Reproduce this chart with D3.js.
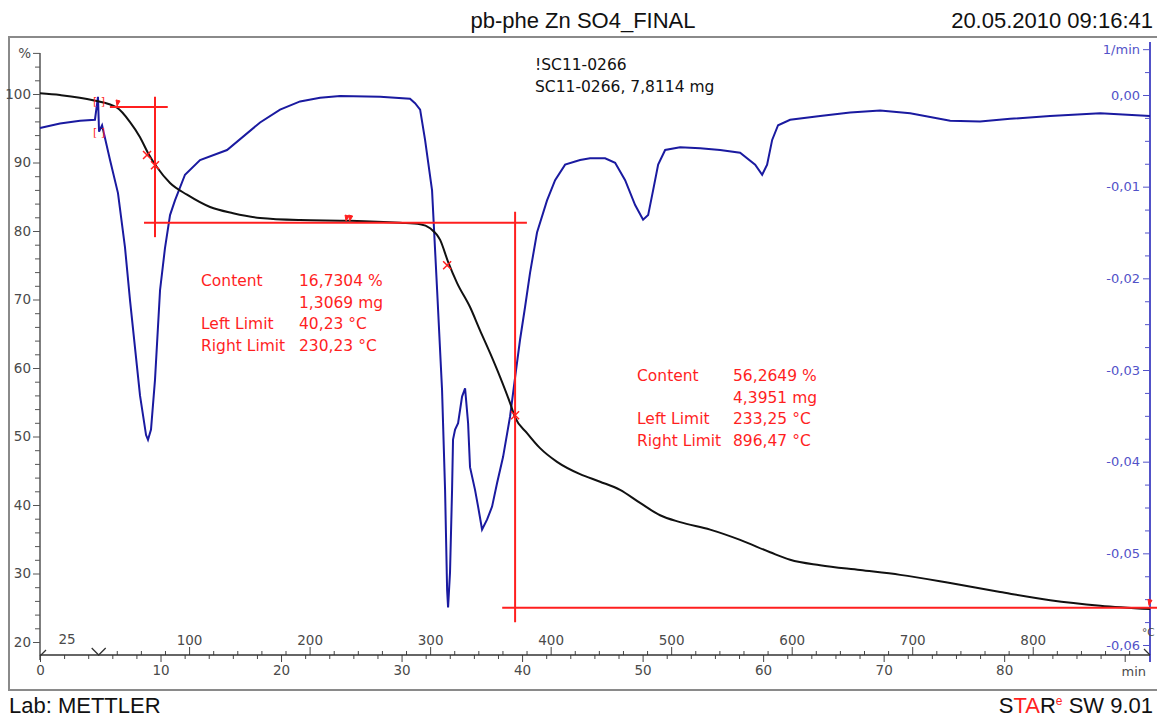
<!DOCTYPE html>
<html>
<head>
<meta charset="utf-8">
<script src="https://cdn.jsdelivr.net/npm/d3@7"></script>
<style>
body { margin: 0; background: #fff; }
svg { display: block; }
</style>
</head>
<body>
<svg></svg>
<script>
// TG curve (%), time in min
var tgTime = [0, 1.66, 4.40, 6.39, 7.47, 8.30, 8.96, 9.71, 10.79, 12.20, 14.11, 16.02, 18.26, 21.58, 25.73, 29.88,
  31.54, 32.37, 33.20, 33.86, 34.61, 35.68, 36.51, 37.34, 38.17, 39.00, 39.42, 40.41, 41.49, 42.90, 44.81, 46.47,
  48.13, 49.79, 51.45, 53.11, 55.60, 58.09, 60.58, 62.24, 64.73, 68.05, 71.37, 75.52, 79.67, 83.82, 87.97, 92.12];
var tgValue = [100.1, 99.85, 99.1, 98.0, 95.9, 93.7, 91.4, 89.3, 87.0, 85.3, 83.5, 82.6, 81.9, 81.6, 81.5, 81.2,
  81.0, 80.4, 78.7, 75.5, 72.4, 68.9, 65.5, 62.2, 58.7, 54.9, 52.8, 50.5, 48.3, 46.3, 44.5, 43.4,
  42.2, 40.3, 38.5, 37.5, 36.4, 34.9, 33.1, 32.0, 31.2, 30.5, 29.8, 28.6, 27.3, 26.1, 25.3, 24.8];

// DTG curve (1/min)
var dtgTime = [0, 1.66, 3.32, 4.56, 4.81, 4.90, 5.15, 5.81, 6.47, 7.05, 7.47, 8.30, 8.80, 8.96, 9.21, 9.54, 9.96,
  10.37, 10.79, 11.20, 12.03, 13.28, 15.52, 18.26, 19.92, 21.58, 23.24, 24.90, 28.22, 30.70, 31.12, 31.54, 31.95,
  32.53, 32.95, 33.36, 33.61, 33.78, 33.86, 34.02, 34.19, 34.27, 34.44, 34.69, 35.02, 35.27, 35.52, 35.68, 36.10,
  36.35, 36.68, 37.10, 37.51, 37.93, 38.42, 39.00, 39.42, 39.83, 40.25, 40.66, 41.24, 42.07, 42.74, 43.57, 44.81,
  45.64, 46.89, 47.72, 48.55, 49.38, 50.04, 50.46, 50.87, 51.29, 51.87, 53.11, 54.77, 56.43, 58.09, 59.34, 59.92,
  60.33, 60.75, 61.24, 62.24, 64.73, 67.22, 69.71, 72.20, 75.52, 78.00, 80.50, 83.80, 87.97, 92.10];
var dtgValue = [-0.0036, -0.0031, -0.0028, -0.0027, -0.0002, -0.0040, -0.0033, -0.0071, -0.0107, -0.0166, -0.0224,
  -0.0328, -0.0371, -0.0376, -0.0365, -0.0311, -0.0213, -0.0167, -0.0131, -0.0115, -0.0087, -0.0071, -0.0060,
  -0.0030, -0.0016, -0.0007, -0.0003, -0.0001, -0.0002, -0.0004, -0.0009, -0.0016, -0.0049, -0.0104, -0.0213,
  -0.0322, -0.0431, -0.0540, -0.0559, -0.0521, -0.0431, -0.0376, -0.0365, -0.0358, -0.0329, -0.0320, -0.0358,
  -0.0406, -0.0431, -0.0449, -0.0474, -0.0463, -0.0449, -0.0423, -0.0395, -0.0351, -0.0308, -0.0267, -0.0231,
  -0.0194, -0.0150, -0.0115, -0.0093, -0.0076, -0.0071, -0.0069, -0.0069, -0.0074, -0.0093, -0.0120, -0.0136,
  -0.0131, -0.0104, -0.0076, -0.0060, -0.0057, -0.0058, -0.0060, -0.0063, -0.0076, -0.0087, -0.0076, -0.0049,
  -0.0033, -0.0027, -0.0023, -0.0019, -0.0017, -0.0020, -0.0028, -0.0029, -0.0026, -0.0023, -0.0020, -0.0023];

// axis ticks
var tgTicks = [20, 30, 40, 50, 60, 70, 80, 90, 100];
var dtgTicks = [0, -0.01, -0.02, -0.03, -0.04, -0.05, -0.06];
var timeTicks = [0, 10, 20, 30, 40, 50, 60, 70, 80];
var tempTicks = [100, 200, 300, 400, 500, 600, 700, 800];

// step evaluations
var stepLeft = [40.23, 233.25];      // °C
var stepRight = [230.23, 896.47];    // °C
var stepLevels = [[98.1, 81.2], [81.2, 25.0]];   // % before / after
var stepInflection = [[8.88, 91.1], [9.54, 89.6], [33.78, 75.0], [39.42, 53.1]];
var step1Names = ["Content", "", "Left Limit", "Right Limit"];
var step1Values = ["16,7304 %", "1,3069 mg", "40,23 °C", "230,23 °C"];
var step2Names = ["Content", "", "Left Limit", "Right Limit"];
var step2Values = ["56,2649 %", "4,3951 mg", "233,25 °C", "896,47 °C"];

var W = 1157, H = 717;
var svg = d3.select("svg").attr("width", W).attr("height", H);

var x = d3.scaleLinear().domain([0, 92.1]).range([40, 1150]);
var yTg = d3.scaleLinear().domain([20, 100]).range([642, 94]);
var yDtg = d3.scaleLinear().domain([-0.06, 0]).range([645, 95]);
// 25 °C isotherm for ~4.87 min, then 10 K/min
var tStart = 4.87;
var xTemp = d3.scaleLinear().domain([25, 896.5]).range([x(tStart), x(tStart + (896.5 - 25) / 10)]);
var tempToTime = T => tStart + (T - 25) / 10;

var axisFont = "DejaVu Sans, Verdana, sans-serif";
var red = "#ff1f1f";

// frame
svg.append("path")
  .attr("d", "M" + W + ",37 H9 V690 H" + W)
  .attr("fill", "none").attr("stroke", "#8a8a8a").attr("stroke-width", 2);

// header / footer
svg.append("text").attr("x", 583).attr("y", 28).attr("text-anchor", "middle")
  .style("font-family", "Liberation Sans, Arial").style("font-size", "22px").attr("fill", "#111")
  .text("pb-phe Zn SO4_FINAL");
svg.append("text").attr("x", 1153).attr("y", 28).attr("text-anchor", "end")
  .style("font-family", "Liberation Sans, Arial").style("font-size", "22px").attr("fill", "#111")
  .text("20.05.2010 09:16:41");
svg.append("text").attr("x", 9).attr("y", 713)
  .style("font-family", "Liberation Sans, Arial").style("font-size", "22px").attr("fill", "#111")
  .text("Lab: METTLER");
var star = svg.append("text").attr("x", 1153).attr("y", 713).attr("text-anchor", "end")
  .style("font-family", "Liberation Sans, Arial").style("font-size", "22px").attr("fill", "#111");
star.append("tspan").text("S");
star.append("tspan").attr("fill", red).text("TA");
star.append("tspan").text("R");
star.append("tspan").attr("dy", -8).style("font-size", "12px").attr("fill", red).text("e");
star.append("tspan").attr("dy", 8).text(" SW 9.01");

// sample info
svg.append("text").attr("x", 535).attr("y", 70)
  .style("font-family", axisFont).style("font-size", "15.5px").attr("fill", "#111").text("!SC11-0266");
svg.append("text").attr("x", 535).attr("y", 92)
  .style("font-family", axisFont).style("font-size", "15.5px").attr("fill", "#111").text("SC11-0266, 7,8114 mg");

// left axis (%)
var leftAxis = d3.axisLeft(yTg)
  .tickValues(d3.range(20, 107, 2))
  .tickFormat(d => tgTicks.indexOf(d) >= 0 ? d : (d === 106 ? "%" : ""))
  .tickSize(7).tickPadding(2);
var gL = svg.append("g").attr("transform", "translate(40,0)").call(leftAxis);
gL.select(".domain").remove();
gL.selectAll(".tick line").attr("stroke", "#555")
  .attr("x2", d => (tgTicks.indexOf(d) >= 0 || d === 106) ? -7 : -5);
gL.selectAll(".tick text").attr("fill", "#4a4a4a")
  .style("font-family", axisFont).style("font-size", "13.5px");
svg.append("line").attr("x1", 40).attr("x2", 40).attr("y1", yTg(106)).attr("y2", 660)
  .attr("stroke", "#555").attr("stroke-width", 1.5);

// right axis (1/min)
var blueAxis = "#5252c8";
var fmt = v => Math.abs(v) < 1e-9 ? "0,00" : d3.format(".2f")(v).replace(".", ",").replace("\u2212", "-");
var rightAxis = d3.axisLeft(yDtg)
  .tickValues(d3.range(-24, 3).map(i => i * 0.0025))
  .tickFormat(v => {
    if (v > 0.004) return "1/min";
    var m = dtgTicks.find(t => Math.abs(t - v) < 1e-9);
    return m !== undefined ? fmt(m) : "";
  })
  .tickSize(7).tickPadding(3);
var gR = svg.append("g").attr("transform", "translate(1150,0)").call(rightAxis);
gR.select(".domain").remove();
gR.selectAll(".tick line").attr("stroke", blueAxis)
  .attr("x2", v => (v > 0.004 || dtgTicks.some(t => Math.abs(t - v) < 1e-9)) ? -7 : -5);
gR.selectAll(".tick text").attr("fill", blueAxis)
  .style("font-family", axisFont).style("font-size", "13px");
svg.append("line").attr("x1", 1150).attr("x2", 1150).attr("y1", 42).attr("y2", 662)
  .attr("stroke", blueAxis).attr("stroke-width", 2);

// bottom axis: time (min) below, temperature (°C) above
var yAxis = 655;
var timeAxis = d3.axisBottom(x)
  .tickValues(d3.range(0, 92, 2))
  .tickFormat(d => timeTicks.indexOf(d) >= 0 ? d : "")
  .tickSize(6).tickPadding(4);
var gT = svg.append("g").attr("transform", "translate(0," + yAxis + ")").call(timeAxis);
gT.select(".domain").remove();
gT.selectAll(".tick line").attr("stroke", "#444").attr("y2", d => d % 10 === 0 ? 7 : 4);
gT.selectAll(".tick text").attr("fill", "#4a4a4a")
  .style("font-family", axisFont).style("font-size", "13.5px");

var tempAxis = d3.axisTop(xTemp)
  .tickValues(d3.range(40, 890, 20))
  .tickFormat(d => tempTicks.indexOf(d) >= 0 ? d : "")
  .tickSize(7).tickPadding(3);
var gC = svg.append("g").attr("transform", "translate(0," + yAxis + ")").call(tempAxis);
gC.select(".domain").remove();
gC.selectAll(".tick line").attr("stroke", "#444").attr("y2", d => d % 100 === 0 ? -8 : -4);
gC.selectAll(".tick text").attr("fill", "#4a4a4a")
  .style("font-family", axisFont).style("font-size", "13.5px");

svg.append("line").attr("x1", 40).attr("x2", 1150).attr("y1", yAxis).attr("y2", yAxis)
  .attr("stroke", "#333").attr("stroke-width", 1.5);
svg.append("text").attr("x", 67).attr("y", 644).attr("text-anchor", "middle")
  .style("font-family", axisFont).style("font-size", "13.5px").attr("fill", "#4a4a4a").text("25");
svg.append("text").attr("x", 1146).attr("y", 676).attr("text-anchor", "end")
  .style("font-family", axisFont).style("font-size", "13px").attr("fill", "#4a4a4a").text("min");
svg.append("text").attr("x", 1142).attr("y", 636)
  .style("font-family", axisFont).style("font-size", "10.5px").attr("fill", "#4a4a4a").text("°C");
// segment marks on the time axis
var sx = xTemp(25);
svg.append("path").attr("d", "M" + (sx - 7) + "," + (yAxis - 7) + " L" + sx + "," + yAxis + " L" + (sx + 7) + "," + (yAxis - 7))
  .attr("fill", "none").attr("stroke", "#333").attr("stroke-width", 1.3);
svg.append("path").attr("d", "M40," + (yAxis + 1) + " L46," + (yAxis - 5))
  .attr("fill", "none").attr("stroke", "#333").attr("stroke-width", 1.3);
svg.append("path").attr("d", "M1144," + (yAxis - 6) + " L1150," + yAxis)
  .attr("fill", "none").attr("stroke", "#333").attr("stroke-width", 1.3);

// curves
var tgData = tgTime.map((t, i) => ({ t: t, v: tgValue[i] }));
var dtgData = dtgTime.map((t, i) => ({ t: t, v: dtgValue[i] }));

svg.append("path")
  .attr("d", d3.line().x(d => x(d.t)).y(d => yDtg(d.v))(dtgData))
  .attr("fill", "none").attr("stroke", "#1a1aa0").attr("stroke-width", 2);

svg.append("path")
  .attr("d", d3.line().curve(d3.curveMonotoneX).x(d => x(d.t)).y(d => yTg(d.v))(tgData))
  .attr("fill", "none").attr("stroke", "#111").attr("stroke-width", 2);

// step evaluation lines
function redLine(t1, v1, t2, v2) {
  svg.append("line")
    .attr("x1", x(t1)).attr("y1", yTg(v1)).attr("x2", x(t2)).attr("y2", yTg(v2))
    .attr("stroke", red).attr("stroke-width", 2);
}
// step 1
redLine(5.8, stepLevels[0][0], 10.6, stepLevels[0][0]);
redLine(9.54, 99.6, 9.54, 79.1);
redLine(8.63, stepLevels[0][1], 40.4, stepLevels[0][1]);
// step 2
redLine(39.42, 82.8, 39.42, 22.9);
redLine(38.35, stepLevels[1][1], 92.8, stepLevels[1][1]);

// inflection crosses
stepInflection.forEach(p => {
  var cx = x(p[0]), cy = yTg(p[1]), s = 4;
  svg.append("path")
    .attr("d", "M" + (cx - s) + "," + (cy - s) + "L" + (cx + s) + "," + (cy + s) + "M" + (cx - s) + "," + (cy + s) + "L" + (cx + s) + "," + (cy - s))
    .attr("stroke", red).attr("stroke-width", 1.5);
});

// limit flags
var flags = [[stepLeft[0], 98.4], [stepRight[0], 81.6], [stepLeft[1], 81.6], [stepRight[1], 25.5]];
flags.forEach(f => {
  var fx = x(tempToTime(f[0])), fy = yTg(f[1]);
  svg.append("path")
    .attr("d", "M" + (fx - 1) + "," + (fy - 5) + " L" + (fx + 3) + "," + (fy - 4) + " L" + (fx) + "," + (fy + 1) + " Z")
    .attr("fill", red).attr("stroke", red).attr("stroke-width", 1);
});

// bracket marks at the DTG glitch
[-0.0007, -0.0040].forEach(v => {
  svg.append("text").attr("x", x(4.9)).attr("y", yDtg(v) + 4).attr("text-anchor", "middle")
    .style("font-family", axisFont).style("font-size", "11px").attr("fill", red).text("[  ]");
});

// result tables
function resultBlock(x0, x1, y0, names, values) {
  names.forEach((n, i) => {
    svg.append("text").attr("x", x0).attr("y", y0 + i * 21.5)
      .style("font-family", axisFont).style("font-size", "15.5px").attr("fill", red).text(n);
    svg.append("text").attr("x", x1).attr("y", y0 + i * 21.5)
      .style("font-family", axisFont).style("font-size", "15.5px").attr("fill", red).text(values[i]);
  });
}
resultBlock(201, 299, 286, step1Names, step1Values);
resultBlock(637, 733, 381, step2Names, step2Values);
</script>
</body>
</html>
